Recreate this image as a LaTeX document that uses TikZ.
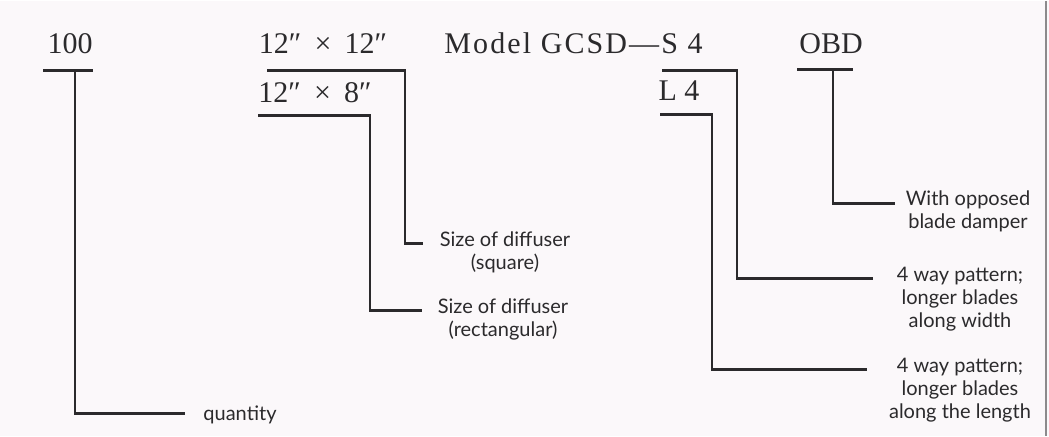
\documentclass[tikz,border=0pt]{standalone}
\usepackage{fontspec}
\setmainfont{Liberation Serif}
\newfontfamily\lblfont{Lato}
\definecolor{scanink}{HTML}{2B2A2C}
\definecolor{scanpaper}{HTML}{FBF8FA}
\definecolor{scanedge}{HTML}{8C8A8C}
\newcommand{\bytimes}{\hspace{2.8pt} × \hspace{2.8pt}}

\begin{document}
\begin{tikzpicture}[x=0.5pt, y=-0.5pt,
                    every node/.style={scanink, inner sep=0pt},
                    code/.style={font=\fontsize{15}{18}\selectfont, anchor=base},
                    lbl/.style={font=\lblfont\fontsize{10}{12}\selectfont, anchor=base},
                    leg/.style={draw=scanink, line width=1.3pt}]

  %% paper and scan edge
  \fill[scanpaper] (0,0) rectangle (1049,435);
  \draw[scanedge, line width=0.8pt] (1046,0) -- (1046,435);
  \useasboundingbox (0,0) rectangle (1049,435);

  %% code line
  \node[code] (qty)   at (70,53)  {100};
  \node[code] (sq)    at (323,53) {12″\bytimes{}12″};
  \node[code, anchor=base east] (model) at (703,53)
       {\addfontfeature{LetterSpace=7}Model GCSD—S 4};
  \node[code] (obd)   at (831,53) {OBD};
  \node[code] (rect)  at (315,102) {12″\bytimes{}8″};
  \node[code] (lfour) at (679,100) {L 4};

  %% meanings
  \node[lbl] (qtya) at (240,420) {quantity};
  \node[lbl] (sqa)  at (505,246) {Size of diffuser};
  \node[lbl] (sqb)  at (505,269) {(square)};
  \node[lbl] (rca)  at (503,313) {Size of diffuser};
  \node[lbl] (rcb)  at (503,336) {(rectangular)};
  \node[lbl] (obda) at (968,205) {With opposed};
  \node[lbl] (obdb) at (968,228) {blade damper};
  \node[lbl] (sfa)  at (960,281) {4 way pattern;};
  \node[lbl] (sfb)  at (960,304) {longer blades};
  \node[lbl] (sfc)  at (960,327) {along width};
  \node[lbl] (lfa)  at (960,372) {4 way pattern;};
  \node[lbl] (lfb)  at (960,395) {longer blades};
  \node[lbl] (lfc)  at (960,418) {along the length};

  %% leg ends
  \coordinate (qtyend) at (185,413);
  \coordinate (sqend)  at (423,243);
  \coordinate (rcend)  at (422,310);
  \coordinate (obdend) at (895,203);
  \coordinate (sfend)  at (873,278);
  \coordinate (lfend)  at (867,369);

  %% underlines with their legs
  \draw[leg] (43,70) -- (93,70);
  \draw[leg] (75,70) |- (qtyend);
  \draw[leg] (267,70) -- (405,70) |- (sqend);
  \draw[leg] (258,115) -- (370,115) |- (rcend);
  \draw[leg] (662,70) -- (737,70) |- (sfend);
  \draw[leg] (660,114) -- (712,114) |- (lfend);
  \draw[leg] (797,69) -- (853,69);
  \draw[leg] (833,69) |- (obdend);

\end{tikzpicture}
\end{document}
